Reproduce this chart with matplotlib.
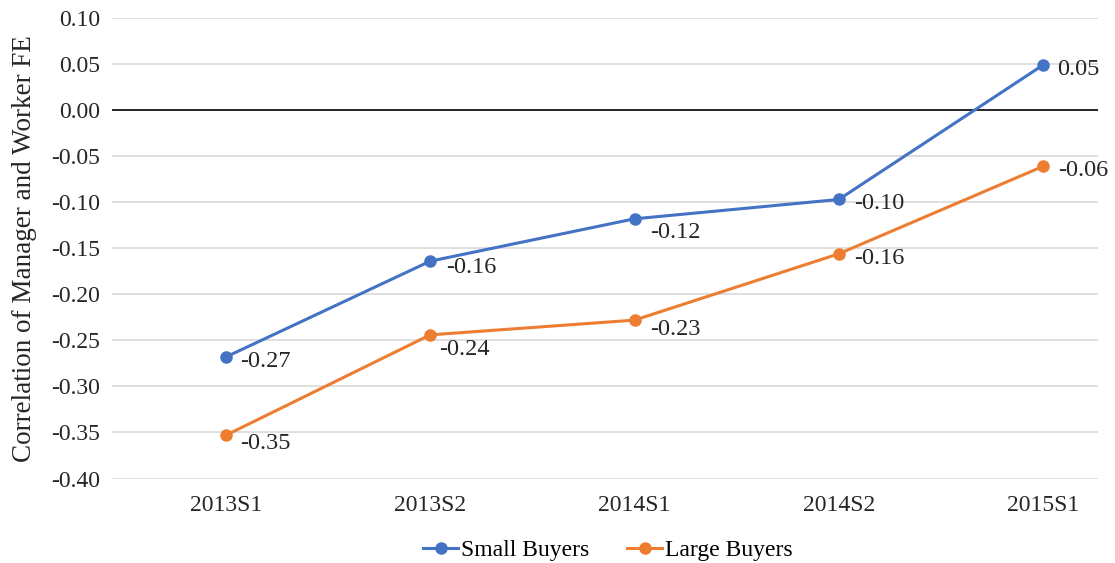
import matplotlib.pyplot as plt
import numpy as np

plt.rcParams['font.family'] = ['Liberation Serif', 'DejaVu Serif']

periods = ['2013S1', '2013S2', '2014S1', '2014S2', '2015S1']
small_buyers = [-0.268, -0.164, -0.118, -0.097, 0.049]
large_buyers = [-0.353, -0.244, -0.228, -0.156, -0.061]
yticks = np.arange(-0.40, 0.101, 0.05)

# label nudges in pixels (right, down), as placed in the original
small_nudge = [(14, 0), (16, 2), (16, 10), (15, 0), (14, 0)]
large_nudge = [(14, 4), (9, 10), (16, 5), (15, 1), (15, 0)]

fig = plt.figure(figsize=(11.15, 5.63), dpi=100)
ax = fig.add_axes([0.100, 0.150, 0.885, 0.818])

x = np.arange(len(periods))
blue = '#4472C4'
orange = '#ED7D31'

for ax_y in yticks:
    if abs(ax_y) > 1e-9:
        ax.axhline(ax_y, color='#D9D9D9', lw=1.2, zorder=0)
ax.axhline(0, color='black', lw=1.2, zorder=1)

ax.plot(x, small_buyers, color=blue, lw=2.2, marker='o', ms=8, label='Small Buyers', zorder=3)
ax.plot(x, large_buyers, color=orange, lw=2.2, marker='o', ms=8, label='Large Buyers', zorder=3)

# data labels to the right of each point
for vals, nudges in [(small_buyers, small_nudge), (large_buyers, large_nudge)]:
    for xi, v, (dx, dy) in zip(x, vals, nudges):
        ax.annotate(f'{v:.2f}', (xi, v), xytext=(dx * 0.72, -3 - dy * 0.72),
                    textcoords='offset points', va='center', ha='left',
                    fontsize=17.5, color='#262626')

ax.set_xlim(-0.56, 4.27)
ax.set_ylim(-0.40, 0.10)
ax.set_xticks(x)
ax.set_xticklabels(periods)
ax.set_yticks(yticks)
ax.set_yticklabels([f'{t:.2f}' if abs(t) > 1e-9 else '0.00' for t in yticks])
ax.tick_params(axis='both', length=0, labelsize=17, colors='#262626', pad=8)
ax.tick_params(axis='x', pad=12)
for s in ax.spines.values():
    s.set_visible(False)

ax.set_ylabel('Correlation of Manager and Worker FE', fontsize=19.5, color='#262626', labelpad=10)

fig.legend(loc='lower center', ncol=2, frameon=False, fontsize=17,
           bbox_to_anchor=(0.545, -0.034), handlelength=1.5, columnspacing=1.6,
           handletextpad=0.1)

fig.savefig('out.png', dpi=100)
